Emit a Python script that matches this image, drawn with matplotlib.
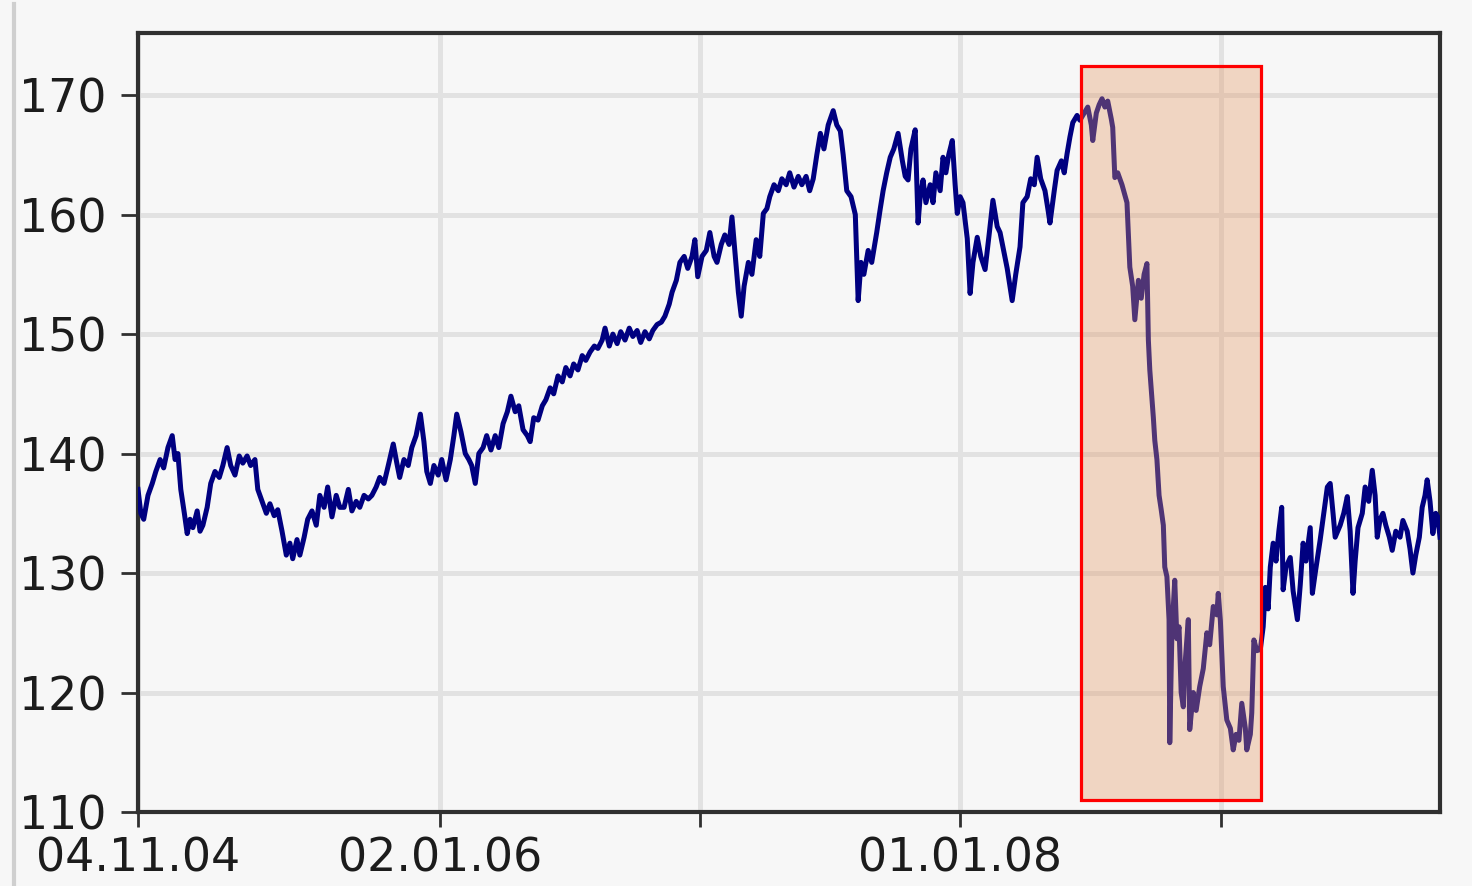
import matplotlib
matplotlib.use("Agg")
import matplotlib.pyplot as plt
import matplotlib.dates as mdates
from matplotlib.patches import Rectangle
from matplotlib.lines import Line2D
import numpy as np
import pandas as pd

start_date = "2004-11-04"
end_date = "2009-11-04"

day_offsets = [
    0, 4, 8, 14, 20, 25, 31, 36, 42, 48, 52, 56, 60, 65, 69, 73, 77, 83, 87, 91,
    97, 102, 108, 114, 119, 125, 130, 136, 142, 147, 153, 158, 164, 168, 174, 180, 185, 191, 196, 202,
    208, 213, 217, 223, 227, 233, 238, 244, 250, 255, 261, 266, 272, 278, 283, 289, 295, 300, 306, 311,
    317, 323, 328, 334, 339, 345, 351, 358, 363, 367, 373, 379, 384, 390, 396, 401, 405, 410, 415, 421,
    426, 432, 438, 443, 447, 453, 459, 464, 468, 473, 478, 484, 489, 495, 501, 506, 512, 518, 523, 529,
    534, 540, 546, 550, 555, 561, 567, 572, 578, 583, 589, 595, 600, 606, 611, 617, 623, 628, 634, 640,
    645, 651, 655, 661, 666, 672, 677, 683, 689, 694, 700, 705, 711, 717, 722, 728, 734, 739, 745, 749,
    755, 760, 766, 771, 777, 781, 785, 791, 797, 802, 808, 812, 818, 823, 829, 833, 837, 842, 846, 850,
    856, 861, 867, 872, 877, 882, 886, 892, 898, 903, 909, 914, 920, 926, 931, 937, 942, 947, 952, 957,
    962, 968, 975, 980, 985, 989, 994, 1000, 1006, 1010, 1014, 1018, 1024, 1029, 1036, 1041, 1045, 1050, 1055, 1060,
    1066, 1072, 1076, 1080, 1084, 1090, 1094, 1097, 1101, 1105, 1111, 1115, 1119, 1125, 1129, 1133, 1137, 1142, 1146, 1149,
    1153, 1157, 1163, 1167, 1171, 1177, 1182, 1188, 1194, 1199, 1205, 1209, 1213, 1219, 1226, 1231, 1237, 1241, 1247, 1252,
    1257, 1261, 1266, 1272, 1276, 1279, 1285, 1289, 1295, 1299, 1303, 1307, 1311, 1317, 1321, 1327, 1332, 1337, 1339, 1344,
    1348, 1352, 1356, 1360, 1365, 1367, 1370, 1374, 1380, 1387, 1391, 1395, 1398, 1403, 1407, 1411, 1415, 1417, 1419, 1424,
    1426, 1429, 1432, 1435, 1438, 1440, 1443, 1446, 1447, 1450, 1454, 1457, 1460, 1463, 1466, 1468, 1473, 1475, 1480, 1484,
    1489, 1494, 1499, 1503, 1508, 1513, 1515, 1518, 1522, 1527, 1532, 1536, 1540, 1544, 1548, 1553, 1555, 1560, 1562, 1565,
    1569, 1574, 1578, 1581, 1585, 1588, 1592, 1596, 1600, 1604, 1606, 1610, 1616, 1620, 1626, 1630, 1634, 1638, 1644, 1647,
    1651, 1658, 1663, 1668, 1672, 1676, 1679, 1686, 1691, 1696, 1700, 1704, 1707, 1711, 1717, 1721, 1726, 1731, 1735, 1738,
    1742, 1746, 1750, 1755, 1759, 1764, 1770, 1774, 1780, 1784, 1788, 1792, 1797, 1801, 1805, 1808, 1812, 1816, 1820, 1823,
    1826,
]

prices = [
    137.0, 135.0, 134.5, 136.5, 137.5, 138.5, 139.5, 138.8, 140.5, 141.5, 139.5, 140.0, 137.0, 135.0, 133.3, 134.5, 133.8, 135.2, 133.5, 134.0,
    135.5, 137.5, 138.5, 138.0, 139.0, 140.5, 139.0, 138.2, 139.8, 139.2, 139.8, 139.0, 139.5, 137.0, 136.0, 135.0, 135.8, 134.8, 135.3, 133.5,
    131.5, 132.5, 131.2, 132.8, 131.5, 133.0, 134.5, 135.2, 134.0, 136.5, 135.5, 137.2, 134.7, 136.5, 135.5, 135.5, 137.0, 135.2, 136.0, 135.5,
    136.5, 136.2, 136.5, 137.2, 138.0, 137.5, 139.0, 140.8, 139.2, 138.0, 139.5, 139.0, 140.5, 141.5, 143.3, 141.0, 138.5, 137.5, 139.0, 138.2,
    139.5, 137.8, 139.5, 141.5, 143.3, 141.8, 140.0, 139.5, 139.0, 137.5, 140.0, 140.5, 141.5, 140.3, 141.5, 140.5, 142.5, 143.5, 144.8, 143.5,
    144.0, 142.0, 141.5, 141.0, 143.0, 142.8, 144.0, 144.5, 145.5, 145.0, 146.5, 146.0, 147.2, 146.5, 147.5, 147.0, 148.2, 147.8, 148.5, 149.0,
    148.8, 149.5, 150.5, 149.0, 150.0, 149.2, 150.2, 149.5, 150.5, 149.8, 150.3, 149.3, 150.2, 149.6, 150.3, 150.8, 151.0, 151.5, 152.5, 153.5,
    154.5, 156.0, 156.5, 155.5, 156.5, 157.9, 154.8, 156.5, 157.0, 158.5, 156.5, 156.0, 157.5, 158.3, 157.5, 159.8, 157.0, 153.5, 151.5, 154.0,
    156.0, 155.0, 157.9, 156.5, 160.1, 160.5, 161.5, 162.5, 162.0, 163.0, 162.5, 163.5, 162.3, 163.2, 162.5, 163.2, 162.0, 163.0, 165.0, 166.8,
    165.5, 167.5, 168.7, 167.5, 167.0, 165.0, 162.0, 161.5, 160.0, 152.8, 156.0, 155.0, 157.0, 156.0, 158.5, 160.5, 162.0, 163.5, 164.8, 165.5,
    166.8, 164.5, 163.2, 162.9, 165.5, 167.1, 159.3, 161.5, 162.9, 161.0, 162.5, 161.0, 163.5, 162.0, 164.8, 163.5, 165.0, 166.2, 162.5, 160.1,
    161.5, 161.0, 158.0, 153.4, 156.0, 158.1, 156.5, 155.4, 158.5, 161.2, 159.0, 158.5, 157.3, 155.5, 152.8, 155.0, 157.3, 161.0, 161.5, 163.0,
    162.5, 164.8, 163.0, 162.0, 160.5, 159.3, 162.0, 163.7, 164.5, 163.5, 165.1, 166.5, 167.7, 168.3, 167.9, 168.5, 169.0, 167.5, 166.2, 168.5,
    169.2, 169.7, 169.0, 169.5, 168.0, 167.3, 163.1, 163.5, 162.5, 161.0, 155.6, 154.0, 151.2, 154.5, 153.0, 155.0, 155.9, 149.5, 147.0, 143.0,
    141.1, 139.5, 136.5, 135.3, 134.0, 130.5, 129.7, 126.1, 115.8, 125.0, 129.4, 124.5, 125.5, 120.0, 118.8, 122.0, 126.1, 116.9, 120.0, 118.5,
    120.5, 122.0, 125.0, 124.0, 127.2, 126.5, 128.3, 126.0, 120.5, 117.7, 117.0, 115.2, 116.5, 116.0, 119.1, 117.0, 115.2, 116.5, 118.3, 124.4,
    123.5, 123.6, 125.5, 128.8, 127.0, 130.5, 132.5, 131.0, 133.5, 135.5, 128.6, 130.5, 131.3, 128.5, 126.1, 129.0, 132.5, 131.0, 133.8, 128.3,
    130.0, 132.8, 135.0, 137.2, 137.5, 135.0, 133.0, 134.0, 135.0, 136.4, 133.5, 128.3, 131.0, 133.8, 135.0, 137.2, 136.0, 138.6, 136.5, 133.0,
    134.5, 135.0, 134.0, 133.0, 131.9, 133.5, 133.0, 134.4, 133.5, 132.0, 130.0, 131.5, 133.0, 135.5, 136.5, 137.8, 136.0, 133.3, 135.0, 134.7,
    133.0,
]

tick_dates = ["2004-11-04", "2006-01-02", "2007-01-01", "2008-01-01", "2009-01-01"]
tick_labels = ["04.11.04", "02.01.06", "", "01.01.08", ""]
y_ticks = [110, 120, 130, 140, 150, 160, 170]
y_limits = (110, 175.2)

highlight_start = "2008-06-18"
highlight_end = "2009-02-26"
highlight_low = 111.0
highlight_high = 172.4

dates = pd.Timestamp(start_date) + pd.to_timedelta(day_offsets, unit="D")

plt.rcParams["font.family"] = ["DejaVu Sans"]

fig = plt.figure(figsize=(14.72, 8.86), dpi=100, facecolor="#f7f7f7")
ax = fig.add_axes([138 / 1472, 74 / 886, (1440 - 138) / 1472, (853 - 74) / 886])
ax.set_facecolor("#f7f7f7")

ax.plot(dates, prices, color="#000080", lw=3.6, solid_joinstyle="round", zorder=3)

hs = mdates.date2num(pd.Timestamp(highlight_start))
he = mdates.date2num(pd.Timestamp(highlight_end))
rect = Rectangle((hs, highlight_low), he - hs, highlight_high - highlight_low,
                 facecolor=(0.89, 0.59, 0.38, 0.35), edgecolor="#ff0000", lw=2.3, zorder=4)
ax.add_patch(rect)

ax.set_xlim(pd.Timestamp(start_date), pd.Timestamp(end_date))
ax.set_ylim(*y_limits)
ax.set_yticks(y_ticks)
ax.set_xticks([pd.Timestamp(d) for d in tick_dates])
ax.set_xticklabels(tick_labels)

ax.grid(True, color="#e2e2e2", lw=3.6, zorder=0)
ax.set_axisbelow(True)

for s in ax.spines.values():
    s.set_color("#303030")
    s.set_linewidth(3)

ax.tick_params(axis="y", direction="out", length=12, width=2, color="#303030",
               labelsize=33, labelcolor="#1c1c1c", pad=11)
ax.tick_params(axis="x", direction="out", length=11, width=2, color="#303030",
               labelsize=33, labelcolor="#1c1c1c", pad=7)

fig.add_artist(Line2D([14 / 1472, 14 / 1472], [0, 0.995], transform=fig.transFigure,
                      color="#cfcfcf", lw=3))

fig.savefig("out.png", dpi=100, facecolor=fig.get_facecolor())
